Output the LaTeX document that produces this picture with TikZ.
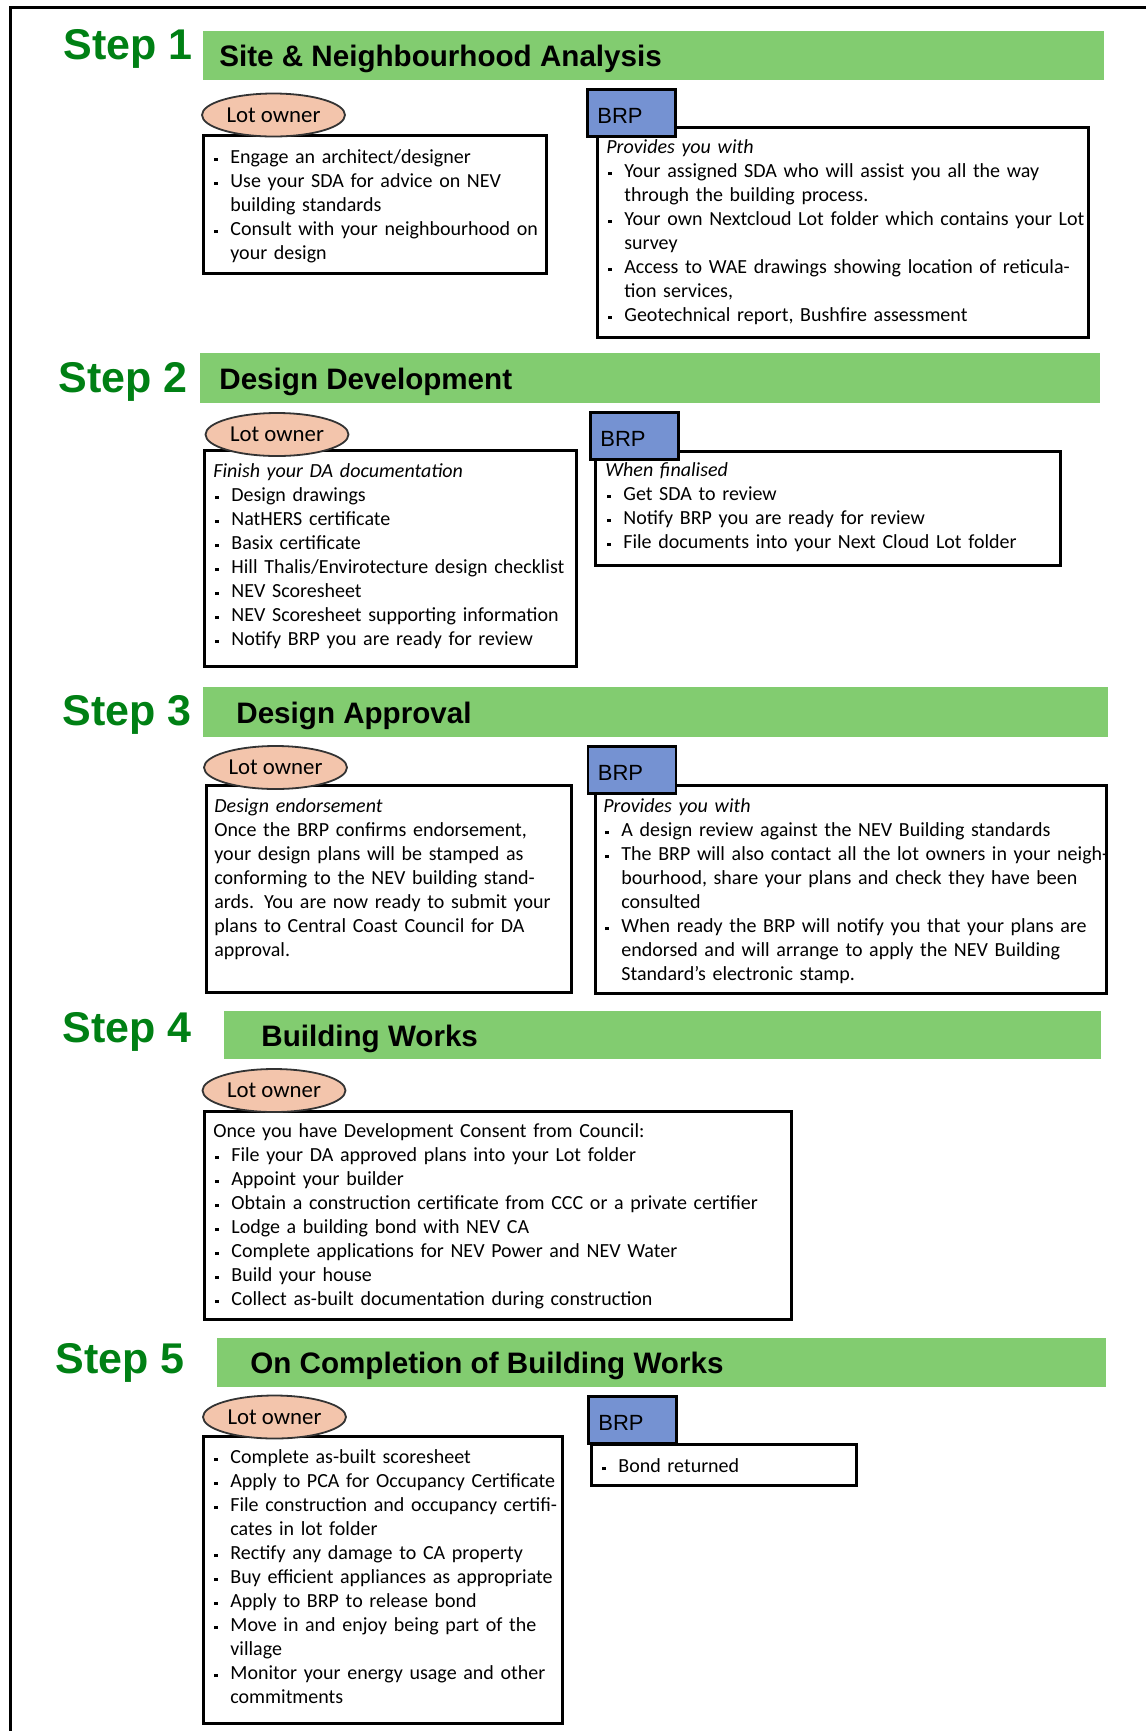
\documentclass[tikz,border=0pt]{standalone}
\usepackage{fontspec}
\setmainfont{Carlito}
\newfontfamily\headfont{Liberation Sans}
\usetikzlibrary{positioning,shapes.geometric}
\setlength{\parindent}{0pt}
\definecolor{stepgreen}{RGB}{0,128,20}
\definecolor{barfill}{RGB}{130,204,112}
\definecolor{ownerfill}{RGB}{243,197,172}
\definecolor{brpfill}{RGB}{117,146,210}
% one bullet point with hanging indent
\newcommand{\bitem}[1]{\hangindent=9pt\hangafter=1\noindent
  \makebox[9pt][l]{\hspace{1pt}\rule[1pt]{1.6pt}{1.6pt}}#1\par}
\tikzset{
    %Define style for the page frame
    frame/.style={line width=1.5pt, draw=black},
    %Define style for the green step bars
    stepbar/.style={
           rectangle,
           fill=barfill,
           anchor=north west,
           inner sep=0pt},
    steplabel/.style={
           anchor=base west,
           inner sep=0pt,
           text=stepgreen,
           font=\headfont\bfseries\fontsize{21.5}{24}\selectfont},
    steptitle/.style={
           inner sep=0pt,
           text height=10.6pt,
           text depth=0pt,
           font=\headfont\bfseries\fontsize{14.8}{17}\selectfont},
    %Define style for the actors
    owner/.style={
           ellipse,
           fill=ownerfill,
           draw=black!80, line width=0.9pt,
           inner sep=0pt,
           minimum width=71.5pt,
           minimum height=21.5pt,
           font=\fontsize{11.4}{13}\selectfont},
    brp/.style={
           rectangle,
           fill=brpfill,
           draw=black, line width=1.4pt,
           anchor=north west,
           minimum width=44pt,
           minimum height=23.5pt,
           text width=34pt,
           inner xsep=5pt,
           text height=10.9pt,
           align=left,
           font=\headfont\fontsize{11}{13}\selectfont},
    %Define style for the task boxes
    listbox/.style={
           rectangle,
           draw=black, line width=1.5pt,
           anchor=north west,
           inner sep=0pt},
    listtext/.style={
           anchor=base west,
           inner sep=0pt,
           text width=280pt,
           align=left,
           font=\fontsize{10}{12}\selectfont},
}

\begin{document}
\begin{tikzpicture}[x=1pt,y=-1pt]
  \useasboundingbox (0,0) rectangle (573,865.5);
  \draw[frame] (5,865.5) -- (5,3.5) -- (573,3.5);

  % Step 1
  \node[steplabel] (lab1) at (31.5,29.5) {Step 1};
  \node[stepbar, minimum width=450.5pt, minimum height=24.5pt] (bar1) at (101.5,15.5) {};
  \node[steptitle, right=8pt of bar1.west] (tit1) {Site \& Neighbourhood Analysis};
  \node[listbox, minimum width=171.5pt, minimum height=69pt] (obox1) at (101,67) {};
  \node[owner] (own1) at (136.75,57.5) {Lot owner};
  \node[listtext] (otxt1) at (106,81.5) {%
    \bitem{Engage an architect/designer}
    \bitem{Use your SDA for advice on NEV\newline building standards}
    \bitem{Consult with your neighbourhood on\newline your design}};
  \node[listbox, minimum width=245.5pt, minimum height=105pt] (bbox1) at (298,63) {};
  \node[brp] (brp1) at (293,44) {BRP};
  \node[listtext] (btxt1) at (303,76.5) {%
    \textit{Provides you with}\par
    \bitem{Your assigned SDA who will assist you all the way\newline through the building process.}
    \bitem{Your own Nextcloud Lot folder which contains your Lot\newline survey}
    \bitem{Access to WAE drawings showing location of reticula-\newline tion services,}
    \bitem{Geotechnical report, Bushfire assessment}};

  % Step 2
  \node[steplabel] (lab2) at (29,196) {Step 2};
  \node[stepbar, minimum width=450pt, minimum height=25pt] (bar2) at (100,176.5) {};
  \node[steptitle, right=9.5pt of bar2.west] (tit2) {Design Development};
  \node[listbox, minimum width=186pt, minimum height=108pt] (obox2) at (101.5,224.5) {};
  \node[owner] (own2) at (138.5,217.25) {Lot owner};
  \node[listtext] (otxt2) at (106.5,238.5) {%
    \textit{Finish your DA documentation}\par
    \bitem{Design drawings}
    \bitem{NatHERS certificate}
    \bitem{Basix certificate}
    \bitem{Hill Thalis/Envirotecture design checklist}
    \bitem{NEV Scoresheet}
    \bitem{NEV Scoresheet supporting information}
    \bitem{Notify BRP you are ready for review}};
  \node[listbox, minimum width=232.5pt, minimum height=57pt] (bbox2) at (297,225) {};
  \node[brp] (brp2) at (294.5,205.5) {BRP};
  \node[listtext] (btxt2) at (302.5,238) {%
    \textit{When finalised}\par
    \bitem{Get SDA to review}
    \bitem{Notify BRP you are ready for review}
    \bitem{File documents into your Next Cloud Lot folder}};

  % Step 3
  \node[steplabel] (lab3) at (31,362.5) {Step 3};
  \node[stepbar, minimum width=452.5pt, minimum height=25pt] (bar3) at (101.5,343.5) {};
  \node[steptitle, right=16.5pt of bar3.west] (tit3) {Design Approval};
  \node[listbox, minimum width=182.5pt, minimum height=103.5pt] (obox3) at (102.5,392) {};
  \node[owner] (own3) at (137.75,383.75) {Lot owner};
  \node[listtext] (otxt3) at (107,406) {%
    \textit{Design endorsement}\par
    Once the BRP confirms endorsement,\newline your design plans will be stamped as\newline
    conforming to the NEV building stand-\newline ards. You are now ready to submit your\newline
    plans to Central Coast Council for DA\newline approval.};
  \node[listbox, minimum width=255.5pt, minimum height=104pt] (bbox3) at (297,392) {};
  \node[brp] (brp3) at (293.25,372.5) {BRP};
  \node[listtext] (btxt3) at (301.5,406) {%
    \textit{Provides you with}\par
    \bitem{A design review against the NEV Building standards}
    \bitem{The BRP will also contact all the lot owners in your neigh-\newline bourhood, share your plans and check they have been\newline consulted}
    \bitem{When ready the BRP will notify you that your plans are\newline endorsed and will arrange to apply the NEV Building\newline Standard’s electronic stamp.}};

  % Step 4
  \node[steplabel] (lab4) at (31,521) {Step 4};
  \node[stepbar, minimum width=438.5pt, minimum height=24pt] (bar4) at (112,505.5) {};
  \node[steptitle, right=18.5pt of bar4.west] (tit4) {Building Works};
  \node[listbox, minimum width=293.75pt, minimum height=104pt] (obox4) at (101.25,555) {};
  \node[owner] (own4) at (137,545.25) {Lot owner};
  \node[listtext] (otxt4) at (106.5,568.5) {%
    Once you have Development Consent from Council:\par
    \bitem{File your DA approved plans into your Lot folder}
    \bitem{Appoint your builder}
    \bitem{Obtain a construction certificate from CCC or a private certifier}
    \bitem{Lodge a building bond with NEV CA}
    \bitem{Complete applications for NEV Power and NEV Water}
    \bitem{Build your house}
    \bitem{Collect as-built documentation during construction}};

  % Step 5
  \node[steplabel] (lab5) at (27.5,686.5) {Step 5};
  \node[stepbar, minimum width=444.5pt, minimum height=24.5pt] (bar5) at (108.5,669) {};
  \node[steptitle, right=16.5pt of bar5.west] (tit5) {On Completion of Building Works};
  \node[listbox, minimum width=179.5pt, minimum height=143.5pt] (obox5) at (101,717.5) {};
  \node[owner] (own5) at (137.25,708.5) {Lot owner};
  \node[listtext] (otxt5) at (106,731.5) {%
    \bitem{Complete as-built scoresheet}
    \bitem{Apply to PCA for Occupancy Certificate}
    \bitem{File construction and occupancy certifi-\newline cates in lot folder}
    \bitem{Rectify any damage to CA property}
    \bitem{Buy efficient appliances as appropriate}
    \bitem{Apply to BRP to release bond}
    \bitem{Move in and enjoy being part of the\newline village}
    \bitem{Monitor your energy usage and other\newline commitments}};
  \node[listbox, minimum width=132.5pt, minimum height=20.5pt] (bbox5) at (295,721.5) {};
  \node[brp] (brp5) at (293.5,697.5) {BRP};
  \node[listtext] (btxt5) at (300,736) {%
    \bitem{Bond returned}};
\end{tikzpicture}
\end{document}
